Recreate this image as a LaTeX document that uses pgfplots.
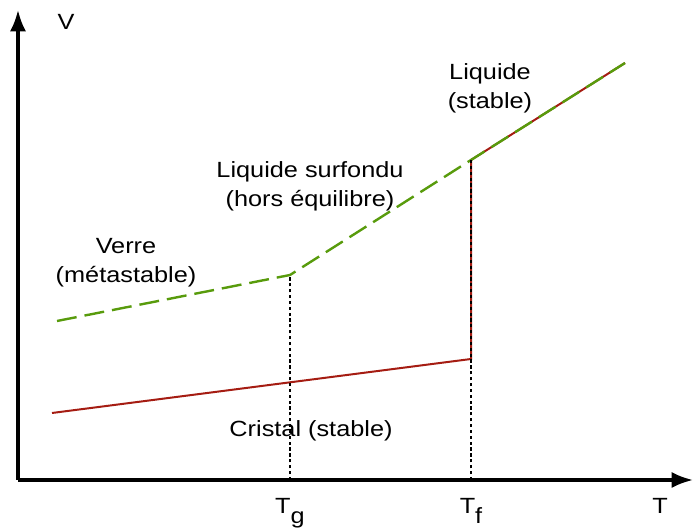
\documentclass[border=0pt]{standalone}
\usepackage{fontspec}
\setmainfont[FakeStretch=1.15]{Liberation Sans}
\usepackage{pgfplots}
\pgfplotsset{compat=1.18}
\usetikzlibrary{arrows.meta}

\definecolor{crist}{RGB}{165,28,18}
\definecolor{verre}{RGB}{88,155,12}

\tikzset{lbl/.style={font=\fontsize{16.5}{21.75}\selectfont, align=center, inner sep=0pt}}

\begin{document}
\begin{tikzpicture}
\begin{axis}[
    x=0.75pt, y=0.75pt,
    xmin=0, xmax=675,
    ymin=0, ymax=470,
    axis lines=none,
    xtick=\empty, ytick=\empty,
    clip=false
]

% axes
\draw[line width=2.3pt, -{Latex[length=16pt,width=12pt]}] (axis cs:0,0) -- (axis cs:675,0);
\draw[line width=2.3pt, -{Latex[length=16pt,width=12pt]}] (axis cs:0,0) -- (axis cs:0,470);

% cristal puis liquide stable
\addplot[color=crist, line width=1.5pt] coordinates {
    (34,67)(453,121)(453,320)(607,417)
};

% verre / liquide surfondu
\addplot[color=verre, line width=1.8pt, dash pattern=on 15pt off 6pt] coordinates {
    (39,159)(272,205)(453,320)(607,417)
};

% Tg et Tf
\addplot[black, line width=1.6pt, dash pattern=on 2.4pt off 2pt] coordinates {(272,0)(272,205)};
\addplot[black, line width=1.6pt, dash pattern=on 2.4pt off 2pt] coordinates {(453,0)(453,320)};

\node[lbl] at (axis cs:48,458) {V};
\node[lbl, anchor=base] at (axis cs:642,-34) {T};
\node[lbl, anchor=base] at (axis cs:272,-34) {T\raisebox{-7.5pt}{g}};
\node[lbl, anchor=base] at (axis cs:453,-34) {T\raisebox{-7.5pt}{f}};

\node[lbl] at (axis cs:472,392) {Liquide\\(stable)};
\node[lbl] at (axis cs:292,294) {Liquide surfondu\\(hors équilibre)};
\node[lbl] at (axis cs:108,217) {Verre\\(métastable)};
\node[lbl] at (axis cs:293,49) {Cristal (stable)};

\coordinate (bl) at (axis cs:-18,-51);
\coordinate (tr) at (axis cs:675,480);
\end{axis}
\pgfresetboundingbox
\path (bl) rectangle (tr);
\end{tikzpicture}
\end{document}
